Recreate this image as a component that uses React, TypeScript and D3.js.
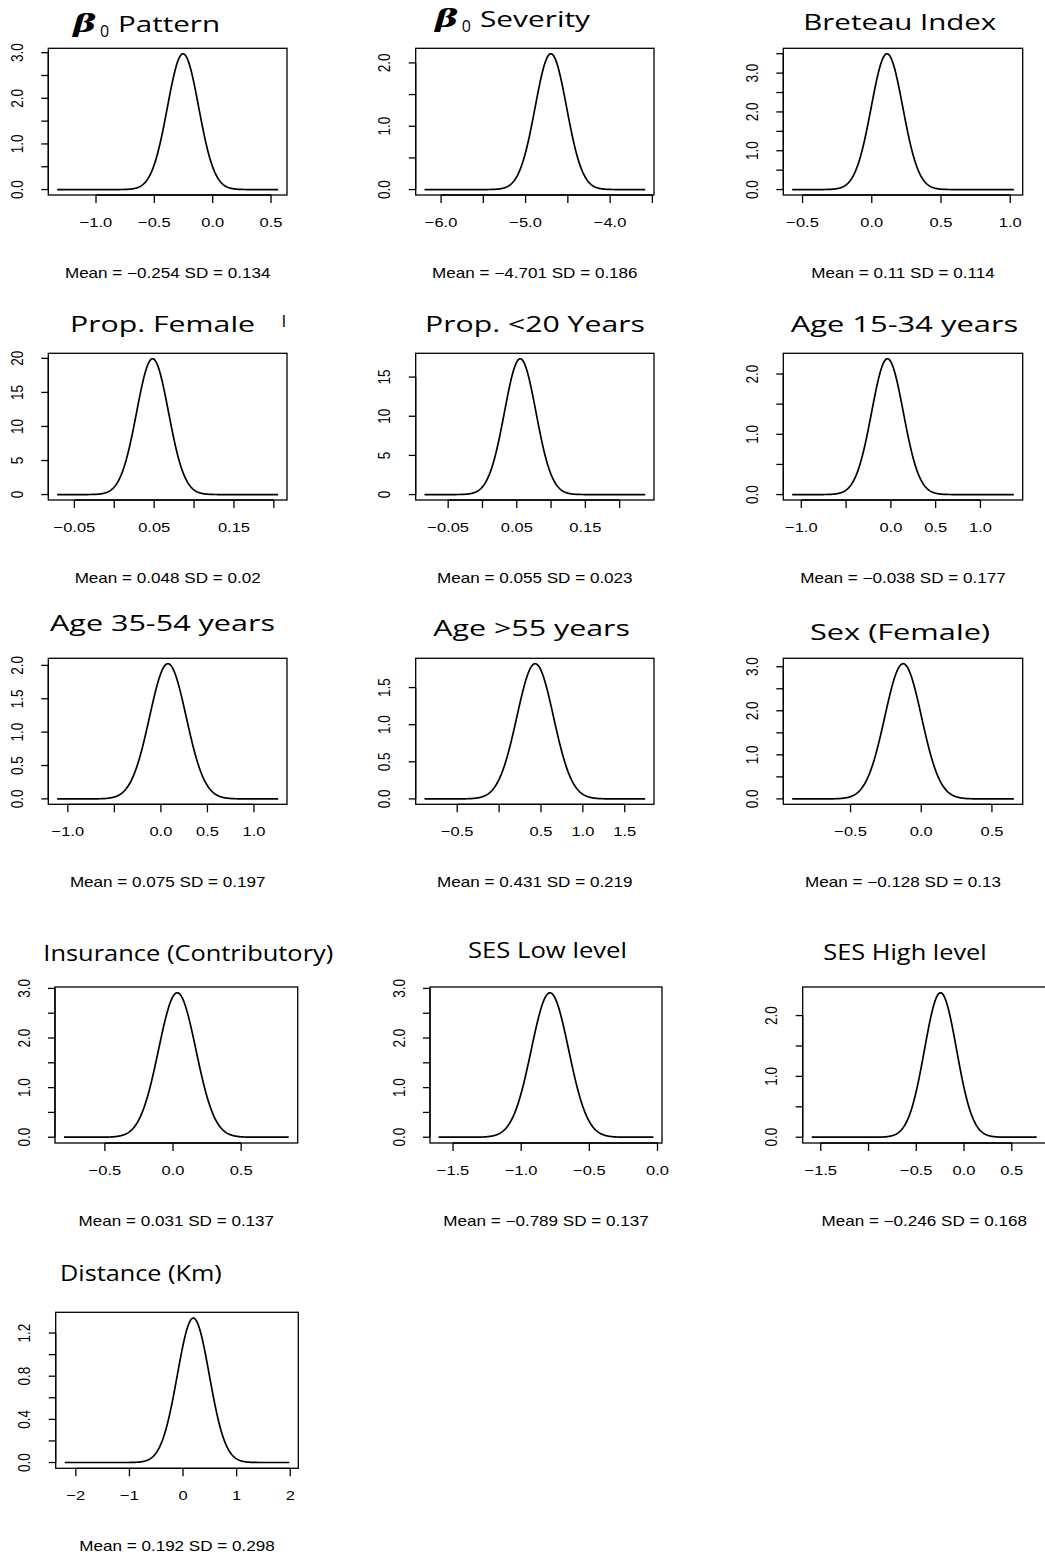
import React from "react";
import * as d3 from "d3";

// ---------------- data ----------------
const TITLES = [
  "Pattern", "Severity", "Breteau Index",
  "Prop. Female", "Prop. <20 Years", "Age 15-34 years",
  "Age 35-54 years", "Age >55 years", "Sex (Female)",
  "Insurance (Contributory)", "SES Low level", "SES High level",
  "Distance (Km)",
];
const HAS_BETA = [true, true, false, false, false, false, false, false, false, false, false, false, false];
const MEANS = [-0.254, -4.701, 0.11, 0.048, 0.055, -0.038, 0.075, 0.431, -0.128, 0.031, -0.789, -0.246, 0.192];
const SDS = [0.134, 0.186, 0.114, 0.02, 0.023, 0.177, 0.197, 0.219, 0.13, 0.137, 0.137, 0.168, 0.298];
// range of the plotted density support
const CURVE_LO = [-1.333, -6.196, -0.575, -0.0716, -0.0845, -1.102, -1.115, -0.89, -0.913, -0.8, -1.606, -1.595, -2.208];
const CURVE_HI = [0.561, -3.585, 1.026, 0.2054, 0.2372, 1.373, 1.26, 1.744, 0.655, 0.849, -0.03, 0.761, 1.983];

const X_TICKS = [
  [-1, -0.5, 0, 0.5],
  [-6, -5.5, -5, -4.5, -4, -3.5],
  [-0.5, 0, 0.5, 1],
  [-0.05, 0, 0.05, 0.1, 0.15, 0.2],
  [-0.05, 0, 0.05, 0.1, 0.15, 0.2],
  [-1, -0.5, 0, 0.5, 1],
  [-1, -0.5, 0, 0.5, 1],
  [-0.5, 0, 0.5, 1, 1.5],
  [-0.5, 0, 0.5],
  [-0.5, 0, 0.5],
  [-1.5, -1, -0.5, 0],
  [-1.5, -1, -0.5, 0, 0.5],
  [-2, -1, 0, 1, 2],
];
const X_LABELS = [
  ["−1.0", "−0.5", "0.0", "0.5"],
  ["−6.0", "", "−5.0", "", "−4.0", ""],
  ["−0.5", "0.0", "0.5", "1.0"],
  ["−0.05", "", "0.05", "", "0.15", ""],
  ["−0.05", "", "0.05", "", "0.15", ""],
  ["−1.0", "", "0.0", "0.5", "1.0"],
  ["−1.0", "", "0.0", "0.5", "1.0"],
  ["−0.5", "", "0.5", "1.0", "1.5"],
  ["−0.5", "0.0", "0.5"],
  ["−0.5", "0.0", "0.5"],
  ["−1.5", "−1.0", "−0.5", "0.0"],
  ["−1.5", "", "−0.5", "0.0", "0.5"],
  ["−2", "−1", "0", "1", "2"],
];
const Y_TICKS = [
  [0, 0.5, 1, 1.5, 2, 2.5, 3],
  [0, 0.5, 1, 1.5, 2],
  [0, 0.5, 1, 1.5, 2, 2.5, 3, 3.5],
  [0, 5, 10, 15, 20],
  [0, 5, 10, 15],
  [0, 0.5, 1, 1.5, 2],
  [0, 0.5, 1, 1.5, 2],
  [0, 0.5, 1, 1.5],
  [0, 0.5, 1, 1.5, 2, 2.5, 3],
  [0, 0.5, 1, 1.5, 2, 2.5, 3],
  [0, 0.5, 1, 1.5, 2, 2.5, 3],
  [0, 0.5, 1, 1.5, 2],
  [0, 0.2, 0.4, 0.6, 0.8, 1, 1.2],
];
const Y_LABELS = [
  ["0.0", "", "1.0", "", "2.0", "", "3.0"],
  ["0.0", "", "1.0", "", "2.0"],
  ["0.0", "", "1.0", "", "2.0", "", "3.0", ""],
  ["0", "5", "10", "15", "20"],
  ["0", "5", "10", "15"],
  ["0.0", "", "1.0", "", "2.0"],
  ["0.0", "0.5", "1.0", "1.5", "2.0"],
  ["0.0", "0.5", "1.0", "1.5"],
  ["0.0", "", "1.0", "", "2.0", "", "3.0"],
  ["0.0", "", "1.0", "", "2.0", "", "3.0"],
  ["0.0", "", "1.0", "", "2.0", "", "3.0"],
  ["0.0", "", "1.0", "", "2.0"],
  ["0.0", "", "0.4", "", "0.8", "", "1.2"],
];

// ---------------- layout ----------------
// [left, top, right, bottom] of each plot box
const BOXES = [
  [48.3, 48.3, 287, 195], [415.7, 48.3, 654, 195], [783.3, 48.3, 1022.7, 195],
  [48.3, 353.3, 287, 500], [415.7, 353.3, 654, 500], [783.3, 353.3, 1022.7, 500],
  [48.3, 658.3, 287, 804.3], [415.7, 658.3, 654, 804.3], [783.3, 658.3, 1022.7, 804.3],
  [55, 987, 297.7, 1143], [430, 987, 662, 1143], [802.7, 987, 1045.7, 1143],
  [55.7, 1312.3, 298.3, 1468.3],
];
// [x start, baseline, text length] of the title words
const TITLE_POS = [
  [118, 32.3, 102], [480, 26.7, 110], [803.3, 30, 193],
  [70, 331.7, 185], [425, 331.7, 220], [790.7, 331.7, 227.6],
  [50, 630.7, 225], [433.3, 636, 196.7], [810, 640, 180],
  [43.3, 960.7, 290], [468, 958, 159], [823.3, 960, 163.4],
  [60, 1280.7, 161.7],
];
const BETA_POS = [
  [73, 32, 100, 36.7],
  [435, 27, 461.7, 32.3],
];

const SANS = "'Liberation Sans', Arial, Helvetica, sans-serif";
const TITLE_FONT = "'Open Sans', 'Noto Sans', sans-serif";
const SX = 1.22; // horizontal stretch of the R graphics text

function fmt(v: number) {
  return String(v).replace("-", "−");
}

function Panel({ i }: { i: number }) {
  const [l, t, r, b] = BOXES[i];
  const mean = MEANS[i];
  const sd = SDS[i];
  const lo = CURVE_LO[i];
  const hi = CURVE_HI[i];
  const pts = d3.range(0, 512).map((k) => {
    const x = lo + ((hi - lo) * k) / 511;
    const y = Math.exp(-0.5 * ((x - mean) / sd) ** 2) / (sd * Math.sqrt(2 * Math.PI));
    return [x, y] as [number, number];
  });
  const peak = d3.max(pts, (p) => p[1]) as number;
  const pad = 0.04 * (hi - lo);
  const xs = d3.scaleLinear().domain([lo - pad, hi + pad]).range([l, r]);
  const ys = d3.scaleLinear().domain([-0.04 * peak, 1.04 * peak]).range([b, t]);
  const line = d3.line<[number, number]>().x((p) => xs(p[0])).y((p) => ys(p[1]));
  const xt = X_TICKS[i];
  const yt = Y_TICKS[i];
  const cx = (l + r) / 2;
  return (
    <g>
      <rect x={l} y={t} width={r - l} height={b - t} fill="none" stroke="#000" strokeWidth={1.3} />
      <path d={line(pts) || ""} fill="none" stroke="#000" strokeWidth={1.7} />
      {/* x axis */}
      <line x1={xs(xt[0])} x2={xs(xt[xt.length - 1])} y1={b} y2={b} stroke="#000" strokeWidth={1.3} />
      {xt.map((v, k) => (
        <g key={"x" + k}>
          <line x1={xs(v)} x2={xs(v)} y1={b} y2={b + 8} stroke="#000" strokeWidth={1.3} />
          {X_LABELS[i][k] ? (
            <text
              transform={`translate(${xs(v)},${b + 31.7}) scale(${SX},1)`}
              textAnchor="middle"
              fontFamily={SANS}
              fontSize={13.5}
              fill="#000"
            >
              {X_LABELS[i][k]}
            </text>
          ) : null}
        </g>
      ))}
      {/* y axis */}
      <line x1={l} x2={l} y1={ys(yt[0])} y2={ys(yt[yt.length - 1])} stroke="#000" strokeWidth={1.3} />
      {yt.map((v, k) => (
        <g key={"y" + k}>
          <line x1={l - 7} x2={l} y1={ys(v)} y2={ys(v)} stroke="#000" strokeWidth={1.3} />
          {Y_LABELS[i][k] ? (
            <text
              transform={`translate(${l - 25.5},${ys(v)}) rotate(-90) scale(1,${SX})`}
              textAnchor="middle"
              fontFamily={SANS}
              fontSize={13.5}
              fill="#000"
            >
              {Y_LABELS[i][k]}
            </text>
          ) : null}
        </g>
      ))}
      {/* sub text */}
      <text
        transform={`translate(${cx},${b + 83}) scale(${SX},1)`}
        textAnchor="middle"
        fontFamily={SANS}
        fontSize={14}
        fill="#000"
      >
        {`Mean = ${fmt(mean)} SD = ${fmt(sd)}`}
      </text>
      {/* title */}
      {HAS_BETA[i] ? (
        <g>
          <text
            transform={`translate(${BETA_POS[i][0]},${BETA_POS[i][1]}) scale(1.4,1)`}
            fontFamily="'DejaVu Serif', 'Liberation Serif', serif"
            fontWeight="bold"
            fontStyle="italic"
            fontSize={25}
            fill="#000"
          >
            β
          </text>
          <text x={BETA_POS[i][2]} y={BETA_POS[i][3]} fontFamily={TITLE_FONT} fontSize={16} fill="#000">
            0
          </text>
        </g>
      ) : null}
      <text
        x={TITLE_POS[i][0]}
        y={TITLE_POS[i][1]}
        textLength={TITLE_POS[i][2]}
        lengthAdjust="spacingAndGlyphs"
        fontFamily={TITLE_FONT}
        fontSize={22}
        fill="#000"
      >
        {TITLES[i]}
      </text>
    </g>
  );
}

export default function App() {
  return (
    <svg
      width={1045}
      height={1562}
      viewBox="0 0 1045 1562"
      style={{ position: "absolute", left: 0, top: 0, background: "#fff" }}
    >
      <rect x={0} y={0} width={1045} height={1562} fill="#fff" />
      {TITLES.map((_, i) => (
        <Panel key={i} i={i} />
      ))}
      <text x={281.5} y={327} fontFamily={TITLE_FONT} fontSize={17} fill="#000">
        I
      </text>
    </svg>
  );
}
